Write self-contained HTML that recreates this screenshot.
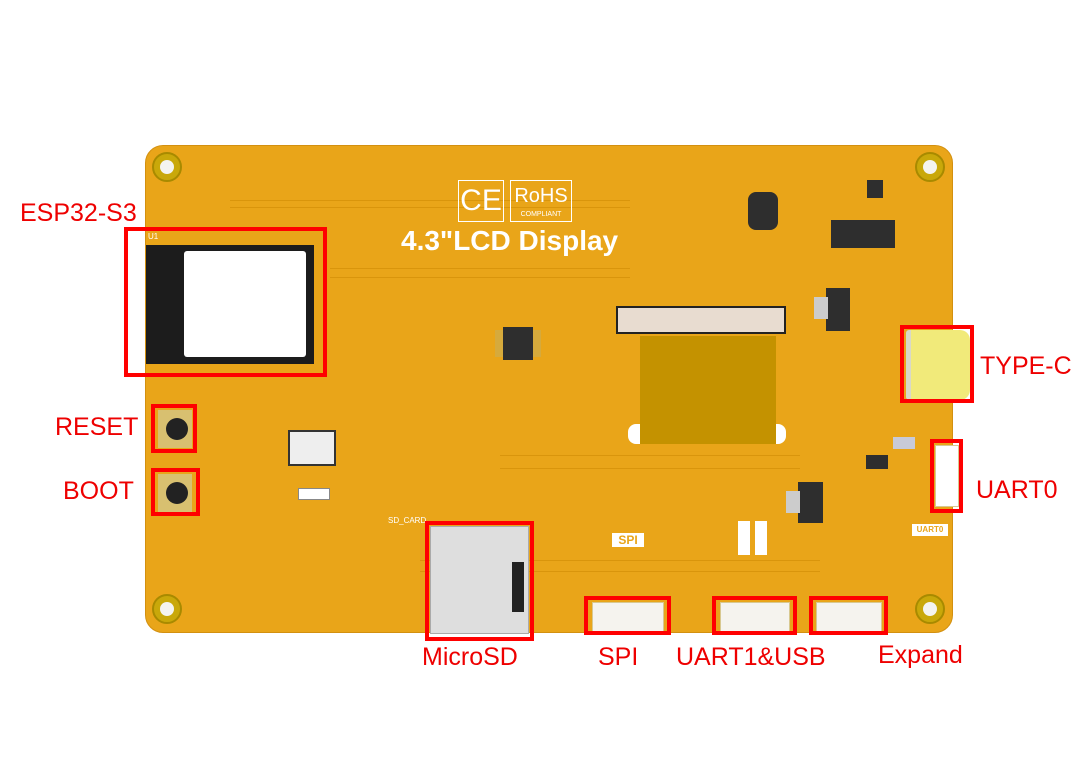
<!DOCTYPE html>
<html><head><meta charset="utf-8"><style>
body{margin:0;width:1092px;height:766px;background:#fff;position:relative;overflow:hidden;font-family:"Liberation Sans",sans-serif}
div{position:absolute;box-sizing:border-box}
.rb{border:4px solid #f00}
.lb{color:#e00;font-size:25px;white-space:nowrap;line-height:28px}
.hole{width:30px;height:30px;border-radius:50%;background:#c9a80a;border:2px solid #a88a00}
.hole::after{content:"";position:absolute;left:6px;top:6px;width:14px;height:14px;border-radius:50%;background:#f4f4f0}
.chip{background:#2e2e2e}
.conn{background:#f3f1ec;border:1px solid #d8c890}
.sm{font-size:8px;color:#fff}
.pad{background:#c4b060}
.tr{border:1px solid #d9950c}
</style></head><body>
<div style="left:145px;top:145px;width:808px;height:488px;background:#e9a519;border-radius:18px;border:1px solid #d39010"></div>
<div class="tr" style="left:230px;top:200px;width:400px;height:8px;border-left:none;border-right:none"></div>
<div class="tr" style="left:330px;top:268px;width:300px;height:10px;border-left:none;border-right:none"></div>
<div class="tr" style="left:500px;top:455px;width:300px;height:14px;border-left:none;border-right:none"></div>
<div class="tr" style="left:420px;top:560px;width:400px;height:12px;border-left:none;border-right:none"></div>
<div class="hole" style="left:152px;top:152px"></div>
<div class="hole" style="left:915px;top:152px"></div>
<div class="hole" style="left:152px;top:594px"></div>
<div class="hole" style="left:915px;top:594px"></div>
<div style="left:458px;top:180px;width:46px;height:42px;border:1px solid #fff;color:#fff;font-size:30px;text-align:center;line-height:40px">CE</div>
<div style="left:510px;top:180px;width:62px;height:42px;border:1px solid #fff;color:#fff;font-size:20px;text-align:center;line-height:30px">RoHS<div style="position:static;font-size:7px;line-height:8px">COMPLIANT</div></div>
<div style="left:401px;top:225px;color:#fff;font-weight:bold;font-size:28px;line-height:32px;white-space:nowrap">4.3"LCD Display</div>
<div class="chip" style="left:146px;top:245px;width:168px;height:119px;background:#1c1c1c"></div>
<div style="left:184px;top:251px;width:122px;height:106px;background:#fff;border-radius:3px"></div>
<div class="sm" style="left:148px;top:232px">U1</div>
<div class="pad" style="left:495px;top:330px;width:46px;height:27px;opacity:.5"></div>
<div class="chip" style="left:503px;top:327px;width:30px;height:33px"></div>
<div style="left:616px;top:306px;width:170px;height:28px;background:#e8dcd0;border:2px solid #222"></div>
<div style="left:640px;top:336px;width:136px;height:108px;background:#c49200"></div>
<div style="left:628px;top:424px;width:12px;height:20px;background:#fff;border-radius:8px 0 0 8px"></div>
<div style="left:776px;top:424px;width:10px;height:20px;background:#fff;border-radius:0 8px 8px 0"></div>
<div class="chip" style="left:826px;top:288px;width:24px;height:43px"></div>
<div style="left:814px;top:297px;width:14px;height:22px;background:#ccc"></div>
<div class="chip" style="left:798px;top:482px;width:25px;height:41px"></div>
<div style="left:786px;top:491px;width:14px;height:22px;background:#ccc"></div>
<div class="chip" style="left:831px;top:220px;width:64px;height:28px"></div>
<div class="chip" style="left:748px;top:192px;width:30px;height:38px;border-radius:8px"></div>
<div class="chip" style="left:867px;top:180px;width:16px;height:18px"></div>
<div class="chip" style="left:866px;top:455px;width:22px;height:14px"></div>
<div style="left:893px;top:437px;width:22px;height:12px;background:#c8cad8"></div>
<div style="left:906px;top:330px;width:64px;height:70px;background:#f1ea7a;border-radius:3px 10px 10px 3px;border-left:5px solid #d8d8c8"></div>
<div class="conn" style="left:935px;top:445px;width:24px;height:62px;background:#fff"></div>
<div style="left:912px;top:524px;width:36px;height:12px;background:#fff;color:#e9a519;font-size:8px;font-weight:bold;text-align:center;line-height:12px">UART0</div>
<div style="left:158px;top:410px;width:34px;height:38px;background:#d8c070"></div>
<div style="left:166px;top:418px;width:22px;height:22px;border-radius:50%;background:#222"></div>
<div style="left:158px;top:474px;width:34px;height:38px;background:#d8c070"></div>
<div style="left:166px;top:482px;width:22px;height:22px;border-radius:50%;background:#222"></div>
<div style="left:288px;top:430px;width:48px;height:36px;background:#eee;border:2px solid #333"></div>
<div style="left:298px;top:488px;width:32px;height:12px;background:#fff;border:1px solid #888"></div>
<div style="left:430px;top:526px;width:99px;height:108px;background:#dedede;border:1px solid #aaa"></div>
<div style="left:512px;top:562px;width:12px;height:50px;background:#222"></div>
<div class="sm" style="left:388px;top:516px">SD_CARD</div>
<div style="left:612px;top:533px;width:32px;height:14px;background:#fff;color:#e9a519;font-size:12px;font-weight:bold;text-align:center;line-height:14px">SPI</div>
<div style="left:738px;top:521px;width:12px;height:34px;background:#fff"></div>
<div style="left:755px;top:521px;width:12px;height:34px;background:#fff"></div>
<div class="conn" style="left:592px;top:602px;width:72px;height:30px;background:#f5f3ee"></div>
<div class="conn" style="left:720px;top:602px;width:70px;height:30px;background:#f5f3ee"></div>
<div class="conn" style="left:816px;top:602px;width:66px;height:30px;background:#f5f3ee"></div>
<div class="rb" style="left:124px;top:227px;width:203px;height:150px"></div>
<div class="rb" style="left:151px;top:404px;width:46px;height:49px"></div>
<div class="rb" style="left:151px;top:468px;width:49px;height:48px"></div>
<div class="rb" style="left:900px;top:325px;width:74px;height:78px"></div>
<div class="rb" style="left:930px;top:439px;width:33px;height:74px"></div>
<div class="rb" style="left:425px;top:521px;width:109px;height:120px"></div>
<div class="rb" style="left:584px;top:596px;width:87px;height:39px"></div>
<div class="rb" style="left:712px;top:596px;width:85px;height:39px"></div>
<div class="rb" style="left:809px;top:596px;width:79px;height:39px"></div>
<div class="lb" style="left:20px;top:199px">ESP32-S3</div>
<div class="lb" style="left:55px;top:413px">RESET</div>
<div class="lb" style="left:63px;top:477px">BOOT</div>
<div class="lb" style="left:980px;top:352px">TYPE-C</div>
<div class="lb" style="left:976px;top:476px">UART0</div>
<div class="lb" style="left:422px;top:643px">MicroSD</div>
<div class="lb" style="left:598px;top:643px">SPI</div>
<div class="lb" style="left:676px;top:643px">UART1&amp;USB</div>
<div class="lb" style="left:878px;top:641px">Expand</div>
</body></html>
